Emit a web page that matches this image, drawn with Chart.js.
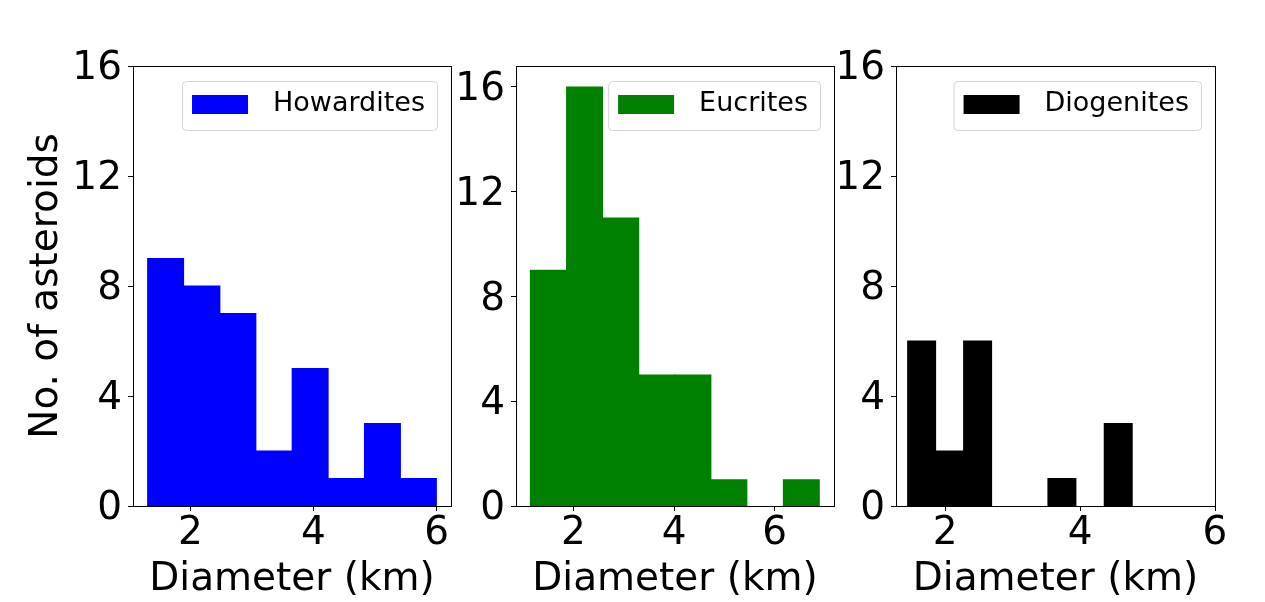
<!DOCTYPE html>
<html>
<head>
<meta charset="utf-8">
<script src="https://cdn.jsdelivr.net/npm/chart.js@4.4.0/dist/chart.umd.min.js"></script>
<style>
  html, body { margin: 0; padding: 0; background: #fff; }
  #wrap { position: relative; width: 1265px; height: 602px; overflow: hidden; }
  canvas { position: absolute; top: 0; }
</style>
</head>
<body>
<div id="wrap">
  <canvas id="c1" width="460" height="610" style="left:0px"></canvas>
  <canvas id="c2" width="410" height="610" style="left:440px"></canvas>
  <canvas id="c3" width="425" height="610" style="left:840px"></canvas>
</div>
<script>
// ---- data ----
const howEdges  = [1.30, 1.89, 2.48, 3.06, 3.65, 4.24, 4.83, 5.41, 6.00];
const howCounts = [9, 8, 7, 2, 5, 1, 3, 1];

const eucEdges  = [1.14, 1.86, 2.58, 3.30, 4.02, 4.73, 5.45, 6.17, 6.89];
const eucCounts = [9, 16, 11, 5, 5, 1, 0, 1];

const dioEdges  = [1.44, 1.86, 2.27, 2.69, 3.11, 3.52, 3.94, 4.36, 4.77];
const dioCounts = [6, 2, 6, 0, 0, 1, 0, 3];

const xTicks = [2, 4, 6];
const yTicks = [0, 4, 8, 12, 16];

const FONT = 'DejaVu Sans';

// ---- helpers ----
// empty bins -> null so no hairline is drawn for them
function binPoints(edges, counts){
  return counts.map((c, i) => ({ x: (edges[i] + edges[i+1]) / 2, y: c === 0 ? null : c }));
}

// frame (all four spines) + boxed legend in the top-right corner
const frameLegend = {
  id: 'frameLegend',
  afterDatasetsDraw(chart){
    const {ctx, chartArea: a} = chart;
    ctx.save();
    ctx.strokeStyle = '#000';
    ctx.lineWidth = 1;
    ctx.strokeRect(Math.round(a.left) + 0.5, Math.round(a.top) + 0.5,
                   Math.round(a.right - a.left), Math.round(a.bottom - a.top));

    const ds = chart.data.datasets[0];
    ctx.font = '27px "' + FONT + '"';
    const tw = ctx.measureText(ds.label).width;
    const w = 10 + 56 + 25 + tw + 12, h = 49;
    const x = a.right - 14 - w, y = a.top + 15;
    ctx.beginPath();
    ctx.roundRect(x + 0.5, y + 0.5, w, h, 4);
    ctx.fillStyle = 'rgba(255,255,255,0.8)';
    ctx.fill();
    ctx.strokeStyle = '#d5d5d5';
    ctx.stroke();
    ctx.fillStyle = ds.backgroundColor;
    ctx.fillRect(x + 10, y + 14, 56, 19);
    ctx.fillStyle = '#000';
    ctx.textBaseline = 'middle';
    ctx.textAlign = 'left';
    ctx.fillText(ds.label, x + 91, y + 23);
    ctx.restore();
  }
};

function makeHist(id, label, color, edges, counts, o){
  const canvas = document.getElementById(id);
  return new Chart(canvas, {
    type: 'bar',
    data: {
      datasets: [{
        label: label,
        data: binPoints(edges, counts),
        backgroundColor: color,
        borderWidth: 0,
        inflateAmount: 0.5,
        barPercentage: 1,
        categoryPercentage: 1
      }]
    },
    options: {
      responsive: false,
      animation: false,
      devicePixelRatio: 1,
      layout: { padding: { top: 66, right: o.padRight, left: 0, bottom: 0 } },
      plugins: { legend: { display: false }, tooltip: { enabled: false } },
      scales: {
        x: {
          type: 'linear',
          offset: false,
          min: o.xmin, max: o.xmax,
          afterBuildTicks: s => { s.ticks = xTicks.map(v => ({ value: v })); },
          afterFit: s => { s.height = 104; },
          grid: { offset: false, drawOnChartArea: false, drawTicks: true, tickLength: 5, tickColor: '#000', tickWidth: 1 },
          border: { display: true, color: '#000', width: 1 },
          ticks: { color: '#000', font: { family: FONT, size: 39 }, padding: -1, maxRotation: 0, autoSkip: false },
          title: { display: true, text: 'Diameter (km)', color: '#000', font: { family: FONT, size: 39 }, padding: { top: 0, bottom: 7 } }
        },
        y: {
          min: 0, max: o.ymax,
          afterBuildTicks: s => { s.ticks = yTicks.map(v => ({ value: v })); },
          afterFit: s => { s.width = o.yWidth; },
          grid: { drawOnChartArea: false, drawTicks: true, tickLength: 5, tickColor: '#000', tickWidth: 1 },
          border: { display: true, color: '#000', width: 1 },
          ticks: { color: '#000', font: { family: FONT, size: 39 }, padding: 6, labelOffset: 3 },
          title: { display: !!o.yTitle, text: o.yTitle || '', color: '#000', font: { family: FONT, size: 39 }, padding: { top: 23, bottom: 0 } }
        }
      }
    },
    plugins: [frameLegend]
  });
}

makeHist('c1', 'Howardites', '#0000ff', howEdges, howCounts,
  { xmin: 1.065, xmax: 6.235, ymax: 16, yWidth: 133, padRight: 9, yTitle: 'No. of asteroids' });
makeHist('c2', 'Eucrites', '#008000', eucEdges, eucCounts,
  { xmin: 0.857, xmax: 7.18, ymax: 16.8, yWidth: 76, padRight: 16 });
makeHist('c3', 'Diogenites', '#000000', dioEdges, dioCounts,
  { xmin: 1.27, xmax: 6.0, ymax: 16, yWidth: 56, padRight: 50 });
</script>
</body>
</html>
